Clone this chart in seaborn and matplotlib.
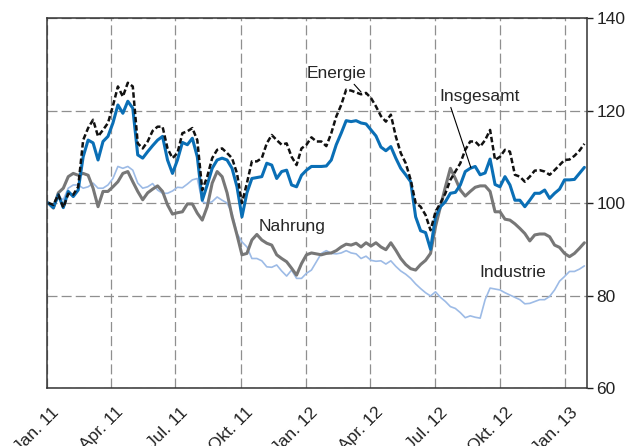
import matplotlib
matplotlib.use('Agg')
import matplotlib.pyplot as plt
import matplotlib.dates as mdates
import matplotlib.transforms as mtransforms
import pandas as pd
import seaborn as sns

# weekly index values (Jan 2011 = 100)
dates = pd.date_range('2011-01-03', periods=109, freq='7D')

insgesamt = [100, 99, 101.8, 99, 102.5, 101.4, 102.8, 110, 113.6, 113, 109.3,
             113.3, 114.4, 117.3, 121.2, 119.4, 122, 120.5, 110.4, 109.7, 111.1, 112.4,
             113.6, 114.4, 109.3, 106.4, 109.3, 113.1, 112.6, 114, 110, 100.6,
             103.9, 107.5, 109.3, 109.7, 109.3, 107.5, 103.5, 97, 102.2, 105.3, 105.5,
             105.7, 108.6, 108.2, 105.3, 106.8, 107.1, 103.9, 103.5, 106, 107.1,
             107.9, 107.9, 107.9, 108, 109.3, 112.6, 115.1, 117.8, 117.6, 117.8, 117.3,
             117.1, 115.8, 114.5, 112.1, 111.3, 112.2, 109.7, 107.5, 106.1, 104.6,
             97, 94, 93.6, 90, 97, 99.2, 100.3, 102.1, 102.3, 103.9, 106.8,
             107.5, 107.9, 106.1, 106.5, 109.5, 104, 103.5, 105.7, 103.9, 100.6,
             100.6, 99.2, 100.6, 102.1, 102.1, 102.8, 101, 102.1, 103, 105,
             105, 105.1, 106.4, 107.7]

energie = [100, 99.6, 101.8, 99, 102, 101.8, 103.5, 113.6, 116.2, 118, 114.4,
           115.8, 117.3, 121, 125.2, 123, 126, 125.2, 112.9, 111.8, 113.3, 115.6,
           116.5, 116.5, 111.8, 109.7, 110.8, 115.1, 115.5, 116.2, 113.6, 102.8,
           105.7, 109.7, 111.5, 111.8, 110.8, 109.7, 106.4, 100, 104.3, 109, 109,
           109.7, 112.9, 114.7, 113.6, 112.6, 112.9, 110, 108.2, 111.8, 112.6,
           114.2, 113.3, 113.3, 112.3, 115.1, 118.7, 121.2, 124.5, 124.3, 123.9, 123.5,
           123.8, 122.7, 120.9, 118.8, 117.6, 119.1, 114.4, 110.8, 108.6, 105,
           100, 99.2, 97.4, 94.1, 98.1, 100, 102.1, 105, 106.8, 108.6, 111.5,
           113.3, 113.3, 112.2, 113.6, 115.8, 109.3, 110, 111.5, 111.1, 106.1,
           105.7, 104.6, 105.7, 107, 107.1, 106.8, 106.1, 107.1, 108.2, 109.3,
           109.4, 110.2, 111.3, 112.8]

nahrung = [100, 98.9, 102.2, 103.2, 105.7, 106.4, 106, 106.4, 106, 103.2, 99.2,
           102.5, 102.5, 103.5, 104.6, 106.4, 106.8, 104.6, 102.5, 100.7, 102.2, 103,
           103.7, 102.5, 99.6, 97.6, 97.9, 98.1, 99.8, 99.8, 97.8, 96.3,
           99.2, 104.3, 106.8, 105.7, 102.2, 97.1, 93.1, 88.8, 89.1, 92, 93.2,
           92, 91.3, 90.9, 88.8, 88, 87.3, 85.9, 84.4, 86.9, 88.8,
           89.2, 89, 88.8, 89.1, 89.2, 89.7, 90.5, 91.1, 90.9, 91.3, 90.5,
           91.4, 90.7, 91.4, 90.5, 89.9, 91.4, 89.8, 88, 86.7, 85.8,
           85.5, 86.7, 87.6, 89.1, 94.9, 99.2, 103.5, 107.5, 105.3, 102.8, 101.5,
           102.5, 103.4, 103.7, 103.7, 102.5, 98.1, 98.1, 96.5, 96.3, 95.5,
           94.5, 93.4, 91.8, 93.1, 93.3, 93.3, 92.7, 90.9, 90.4, 89.1,
           88.4, 89.1, 90.2, 91.4]

industrie = [100, 99.2, 101.4, 100.7, 103.2, 103.9, 103.9, 103.2, 103.5, 104.3, 103.2,
             103.2, 103.9, 105.3, 107.9, 107.5, 107.9, 107.1, 104.3, 103.2, 103.5, 104.2,
             102.8, 102.1, 102.1, 102.6, 103.4, 103.3, 104.1, 105, 105.3, 100.3,
             99.9, 100.3, 101.3, 100.6, 100, 97.8, 93.4, 91.6, 90.5, 88, 88,
             87.5, 86.2, 86.1, 86.6, 85.3, 84.2, 85.5, 83.7, 83.7, 84.8,
             85.5, 87.3, 89.1, 89.7, 89.1, 89, 89.2, 89.7, 89.2, 89, 88,
             88.5, 87.6, 87.4, 87.5, 86.8, 87.5, 86.3, 85.3, 84.6, 83.7,
             82.5, 81.5, 80.6, 79.9, 80.8, 79.6, 78.7, 77.6, 77.2, 76.3, 75.2,
             75.6, 75.3, 75.1, 79.1, 81.6, 81.4, 81.2, 80.6, 80.1, 79.6,
             79.1, 78.2, 78.3, 78.7, 79.1, 79.1, 79.8, 81.2, 83.1, 84.1,
             85.2, 85.2, 85.7, 86.4]

tick_dates = pd.date_range('2011-01-01', '2013-01-01', freq='QS')
tick_labels = ['Jan. 11', 'Apr. 11', 'Jul. 11', 'Okt. 11', 'Jan. 12',
               'Apr. 12', 'Jul. 12', 'Okt. 12', 'Jan. 13']
y_ticks = [60, 80, 100, 120, 140]

df = pd.DataFrame({'date': dates, 'Insgesamt': insgesamt, 'Energie': energie,
                   'Nahrung': nahrung, 'Industrie': industrie})

sns.set_style('white')
plt.rcParams['font.family'] = ['Liberation Sans', 'DejaVu Sans']

fig = plt.figure(figsize=(6.3, 4.46), dpi=100)
ax = fig.add_axes([47 / 630, 58 / 446, 539.5 / 630, 370 / 446])

sns.lineplot(data=df, x='date', y='Industrie', color='#9dbbe6', lw=1.2, ax=ax)
sns.lineplot(data=df, x='date', y='Nahrung', color='#777777', lw=2.2, ax=ax)
sns.lineplot(data=df, x='date', y='Insgesamt', color='#0a6fb6', lw=2.2, ax=ax)
sns.lineplot(data=df, x='date', y='Energie', color='#111111', lw=1.8,
             linestyle=(0, (2.2, 1.1)), ax=ax)

ax.set_xlim(pd.Timestamp('2011-01-01'), pd.Timestamp('2013-01-31'))
ax.set_ylim(60, 140)
ax.set_xlabel('')
ax.set_ylabel('')

ax.set_xticks(tick_dates)
ax.set_xticklabels([])
ax.set_yticks(y_ticks)
ax.yaxis.tick_right()
ax.tick_params(axis='y', direction='out', length=4, width=1, pad=3,
               labelsize=12.5, colors='#222222', left=False, right=True)
ax.tick_params(axis='x', direction='out', length=4.5, width=1, colors='#333333')
ax.grid(True, color='#8f8f8f', linestyle=(0, (8, 3.3)), lw=0.9)

for side in ['left', 'right', 'top', 'bottom']:
    ax.spines[side].set_visible(True)
    ax.spines[side].set_color('#333333')
    ax.spines[side].set_linewidth(1.1)

# rotated date labels, shifted like the original
offset = mtransforms.ScaledTranslation(10 / 100, -22 / 100, fig.dpi_scale_trans)
for d, lab in zip(tick_dates, tick_labels):
    ax.text(mdates.date2num(d), 0, lab, transform=ax.get_xaxis_transform() + offset,
            rotation=45, ha='right', va='center', rotation_mode='anchor',
            fontsize=12.5, color='#222222', clip_on=False)

def dn(s):
    return mdates.date2num(pd.Timestamp(s))

ax.text(dn('2011-12-12'), 95.0, 'Nahrung', ha='center', va='center', fontsize=12.5)
ax.text(dn('2012-10-19'), 84.9, 'Industrie', ha='center', va='center', fontsize=12.5)
ax.annotate('Energie', xy=(dn('2012-03-19'), 124.0), xytext=(dn('2012-02-13'), 128.0),
            ha='center', va='center', fontsize=12.5,
            arrowprops=dict(arrowstyle='-', color='black', lw=0.8,
                            relpos=(0.75, 0), shrinkA=0, shrinkB=0))
ax.annotate('Insgesamt', xy=(dn('2012-08-21'), 107.6), xytext=(dn('2012-09-02'), 123.0),
            ha='center', va='center', fontsize=12.5,
            arrowprops=dict(arrowstyle='-', color='black', lw=0.8,
                            relpos=(0.13, 0), shrinkA=0, shrinkB=0))

plt.savefig('out.png', dpi=100)
plt.close()
